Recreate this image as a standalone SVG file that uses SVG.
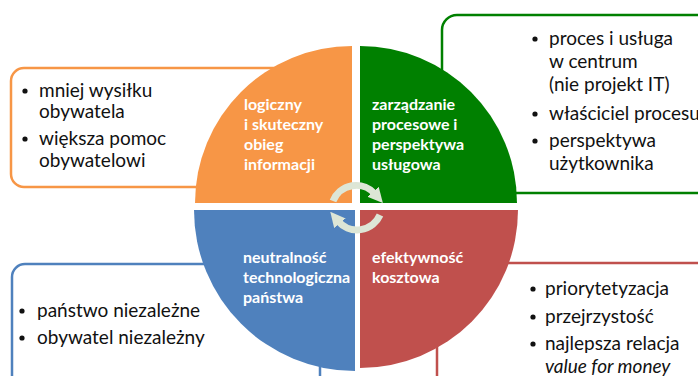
<svg xmlns="http://www.w3.org/2000/svg" width="698" height="376" viewBox="0 0 698 376">
<style>
.box{fill:#fff;stroke-width:2.5}
.t{font-family:Lato,"Open Sans","Liberation Sans",sans-serif;font-size:19px;fill:#111}
.q{font-family:Lato,"Open Sans","Liberation Sans",sans-serif;font-size:16px;font-weight:bold;fill:#fff}
.b{fill:#111}
.arc{fill:none;stroke:#dde6d6;stroke-width:7}
</style>
<defs>
<marker id="ah" viewBox="0 0 10 10" refX="2" refY="5" markerWidth="15" markerHeight="15" markerUnits="userSpaceOnUse" orient="auto">
<path d="M0,0 L10,5 L0,10 Z" fill="#dde6d6"/>
</marker>
</defs>
<rect width="698" height="376" fill="#fff"/>
<g id="box-orange">
<rect class="box" x="11" y="68" width="290" height="119" rx="13" stroke="#f79646"/>
<circle class="b" cx="25" cy="91" r="2.6"/>
<text class="t" x="39" y="97">mniej wysiłku</text>
<text class="t" x="39" y="118">obywatela</text>
<circle class="b" cx="25" cy="139" r="2.6"/>
<text class="t" x="39" y="145">większa pomoc</text>
<text class="t" x="39" y="167">obywatelowi</text>
</g>
<g id="box-green">
<rect class="box" x="442" y="15" width="300" height="178" rx="15" stroke="#008000"/>
<circle class="b" cx="535" cy="39" r="2.6"/>
<text class="t" x="549" y="45">proces i usługa</text>
<text class="t" x="549" y="68">w centrum</text>
<text class="t" x="549" y="91">(nie projekt IT)</text>
<circle class="b" cx="535" cy="114" r="2.6"/>
<text class="t" x="549" y="120">właściciel procesu</text>
<circle class="b" cx="535" cy="141" r="2.6"/>
<text class="t" x="549" y="147">perspektywa</text>
<text class="t" x="549" y="170">użytkownika</text>
</g>
<g id="box-blue">
<rect class="box" x="12" y="264" width="308" height="150" rx="13" stroke="#4f81bd"/>
<circle class="b" cx="22" cy="311" r="2.6"/>
<text class="t" x="37" y="317">państwo niezależne</text>
<circle class="b" cx="22" cy="338" r="2.6"/>
<text class="t" x="37" y="344">obywatel niezależny</text>
</g>
<g id="box-red">
<rect class="box" x="437" y="263" width="300" height="150" rx="13" stroke="#c0504d"/>
<circle class="b" cx="533" cy="289" r="2.6"/>
<text class="t" x="545" y="295">priorytetyzacja</text>
<circle class="b" cx="533" cy="317" r="2.6"/>
<text class="t" x="545" y="323">przejrzystość</text>
<circle class="b" cx="533" cy="344" r="2.6"/>
<text class="t" x="545" y="350">najlepsza relacja</text>
<text class="t" x="545" y="373" font-style="italic">value for money</text>
</g>
<g id="q-orange">
<path d="M352,203 L195,203 A157,157 0 0 1 352,46 Z" fill="#f79646"/>
<text class="q" x="244" y="110">logiczny</text>
<text class="q" x="244" y="130">i skuteczny</text>
<text class="q" x="244" y="150">obieg</text>
<text class="q" x="244" y="170">informacji</text>
</g>
<g id="q-green">
<path d="M360,203 L360,46 A157,157 0 0 1 517,203 Z" fill="#008000"/>
<text class="q" x="372" y="110">zarządzanie</text>
<text class="q" x="372" y="130">procesowe i</text>
<text class="q" x="372" y="150">perspektywa</text>
<text class="q" x="372" y="170">usługowa</text>
</g>
<g id="q-blue">
<path d="M355,210 L355,371 A161,161 0 0 1 194,210 Z" fill="#4f81bd"/>
<text class="q" x="243" y="263">neutralność</text>
<text class="q" x="243" y="283">technologiczna</text>
<text class="q" x="243" y="303">państwa</text>
</g>
<g id="q-red">
<path d="M360,210 L518,210 A158,158 0 0 1 360,368 Z" fill="#c0504d"/>
<text class="q" x="372" y="263">efektywność</text>
<text class="q" x="372" y="283">kosztowa</text>
</g>
<g id="connectors">
<path class="arc" d="M333,201 A25,25 0 0 1 375,194" marker-end="url(#ah)"/>
<path class="arc" d="M380,215 A25,25 0 0 1 338,221" marker-end="url(#ah)"/>
</g>
</svg>
